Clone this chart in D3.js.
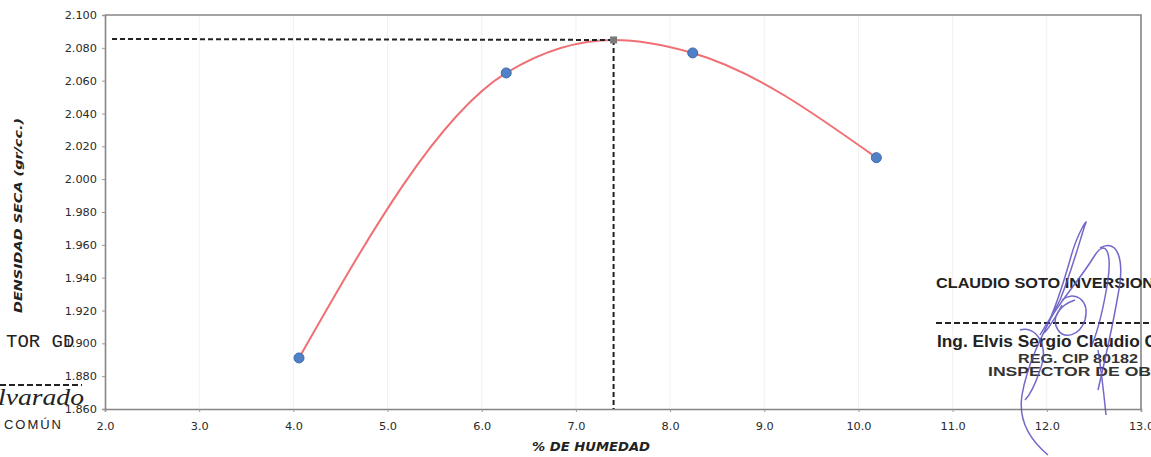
<!DOCTYPE html>
<html>
<head>
<meta charset="utf-8">
<script src="https://cdn.jsdelivr.net/npm/d3@7"></script>
<style>
  html, body { margin: 0; padding: 0; background: #fff; }
  svg { display: block; }
</style>
</head>
<body>
<svg id="chart" width="1151" height="457"></svg>
<script>
// ---- data ----
const moisture = [4.06, 6.26, 8.24, 10.19];          // % de humedad
const density  = [1.8911, 2.0647, 2.0769, 2.0131];   // densidad seca (gr/cc)
const optMoisture = [7.40];                           // óptimo contenido de humedad
const maxDensity  = [2.0848];                         // máxima densidad seca
const xTickValues = [2, 3, 4, 5, 6, 7, 8, 9, 10, 11, 12, 13];
const yTickValues = [1.86, 1.88, 1.90, 1.92, 1.94, 1.96, 1.98, 2.00, 2.02, 2.04, 2.06, 2.08, 2.10];
const xTitle = "% DE HUMEDAD";
const yTitle = "DENSIDAD SECA (gr/cc.)";

// ---- layout ----
const W = 1151, H = 457;
const plot = { left: 105, right: 1141, top: 15, bottom: 409 };

const svg = d3.select("#chart");
svg.append("rect").attr("width", W).attr("height", H).attr("fill", "#fff");

const x = d3.scaleLinear().domain([2, 13]).range([plot.left, plot.right]);
const y = d3.scaleLinear().domain([1.86, 2.10]).range([plot.bottom, plot.top]);

// faint vertical gridlines
svg.append("g").selectAll("line").data(xTickValues.slice(1, -1)).join("line")
  .attr("x1", d => x(d)).attr("x2", d => x(d))
  .attr("y1", plot.top).attr("y2", plot.bottom)
  .attr("stroke", "#f1f1f1").attr("stroke-width", 1);

// axes
const yAxis = d3.axisLeft(y).tickValues(yTickValues).tickFormat(d3.format(".3f")).tickSize(3).tickPadding(5);
const xAxis = d3.axisBottom(x).tickValues(xTickValues).tickFormat(d3.format(".1f")).tickSize(3).tickPadding(10);

const gy = svg.append("g").attr("transform", `translate(${plot.left},0)`).call(yAxis);
const gx = svg.append("g").attr("transform", `translate(0,${plot.bottom})`).call(xAxis);
[gx, gy].forEach(g => {
  g.select(".domain").attr("stroke", "#858585").attr("stroke-width", 1.6);
  g.selectAll(".tick line").attr("stroke", "#999");
  g.selectAll(".tick text")
    .attr("fill", "#2a2a2a")
    .style("font-family", "'DejaVu Sans', sans-serif")
    .style("font-size", "11.3px");
});

// top & right border of plot area
svg.append("path")
  .attr("d", `M${plot.left},${plot.top}H${plot.right}V${plot.bottom}`)
  .attr("fill", "none").attr("stroke", "#858585").attr("stroke-width", 1.6);

// axis titles
svg.append("text")
  .attr("x", 532).attr("y", 451)
  .attr("textLength", 118).attr("lengthAdjust", "spacingAndGlyphs")
  .style("font-family", "'DejaVu Sans', sans-serif")
  .style("font-size", "11.5px").style("font-weight", "bold").style("font-style", "italic")
  .attr("fill", "#222")
  .text(xTitle);

svg.append("text")
  .attr("transform", `translate(22,313) rotate(-90)`)
  .attr("textLength", 195).attr("lengthAdjust", "spacingAndGlyphs")
  .style("font-family", "'DejaVu Sans', sans-serif")
  .style("font-size", "11px").style("font-weight", "bold").style("font-style", "italic")
  .attr("fill", "#222")
  .text(yTitle);

// curve through the measured points and the optimum
const pts = moisture.map((m, i) => [m, density[i]]);
const curvePts = pts.concat([[optMoisture[0], maxDensity[0]]]).sort((a, b) => a[0] - b[0]);
const line = d3.line().x(d => x(d[0])).y(d => y(d[1])).curve(d3.curveMonotoneX);
svg.append("path").datum(curvePts)
  .attr("d", line)
  .attr("fill", "none").attr("stroke", "#ef6f74").attr("stroke-width", 2);

// dashed guide lines to the optimum
svg.append("line")
  .attr("x1", plot.left + 7).attr("x2", x(optMoisture[0]))
  .attr("y1", y(maxDensity[0]) - 1).attr("y2", y(maxDensity[0]))
  .attr("stroke", "#222").attr("stroke-width", 2).attr("stroke-dasharray", "5,3");
svg.append("line")
  .attr("x1", x(optMoisture[0])).attr("x2", x(optMoisture[0]))
  .attr("y1", y(maxDensity[0])).attr("y2", plot.bottom)
  .attr("stroke", "#222").attr("stroke-width", 2).attr("stroke-dasharray", "5,3");

// optimum marker
svg.append("g").selectAll("rect").data(optMoisture).join("rect")
  .attr("x", d => x(d) - 3.5).attr("y", (d, i) => y(maxDensity[i]) - 3.5)
  .attr("width", 7).attr("height", 7)
  .attr("fill", "#7a7a7a");

// data points
svg.append("g").selectAll("circle").data(pts).join("circle")
  .attr("cx", d => x(d[0])).attr("cy", d => y(d[1]))
  .attr("r", 5)
  .attr("fill", "#5080c6").attr("stroke", "#3f6aac").attr("stroke-width", 1);

// ---- stamp / annotation overlays from the scanned sheet ----
const ov = svg.append("g");
ov.append("text").attr("x", 6).attr("y", 347)
  .style("font-family", "'Liberation Mono', monospace").style("font-size", "19px")
  .attr("fill", "#222").text("TOR GD");
ov.append("line").attr("x1", 0).attr("x2", 82).attr("y1", 385).attr("y2", 385)
  .attr("stroke", "#222").attr("stroke-width", 2).attr("stroke-dasharray", "6,3");
ov.append("text").attr("x", -2).attr("y", 405)
  .attr("textLength", 86).attr("lengthAdjust", "spacingAndGlyphs")
  .style("font-family", "'Liberation Serif', serif").style("font-size", "24px").style("font-style", "italic")
  .attr("fill", "#222").text("lvarado");
ov.append("text").attr("x", 4).attr("y", 429)
  .attr("textLength", 57)
  .style("font-family", "'Liberation Sans', sans-serif").style("font-size", "13px")
  .attr("fill", "#222").text("COMÚN");

ov.append("text").attr("x", 936).attr("y", 288)
  .attr("textLength", 218).attr("lengthAdjust", "spacingAndGlyphs")
  .style("font-family", "'Liberation Sans Narrow', 'Liberation Sans', sans-serif").style("font-size", "15.5px").style("font-weight", "bold")
  .attr("fill", "#222").text("CLAUDIO SOTO INVERSION");
ov.append("line").attr("x1", 936).attr("x2", 1151).attr("y1", 323).attr("y2", 323)
  .attr("stroke", "#222").attr("stroke-width", 2).attr("stroke-dasharray", "6,3");
ov.append("text").attr("x", 937).attr("y", 347)
  .attr("textLength", 220).attr("lengthAdjust", "spacingAndGlyphs")
  .style("font-family", "'Liberation Sans Narrow', 'Liberation Sans', sans-serif").style("font-size", "16px").style("font-weight", "bold")
  .attr("fill", "#222").text("Ing. Elvis Sergio Claudio C");
ov.append("text").attr("x", 1018).attr("y", 363)
  .attr("textLength", 120).attr("lengthAdjust", "spacingAndGlyphs")
  .style("font-family", "'Liberation Sans', sans-serif").style("font-size", "12.5px").style("font-weight", "bold")
  .attr("fill", "#333").text("REG. CIP 80182");
ov.append("text").attr("x", 988).attr("y", 376)
  .attr("textLength", 168).attr("lengthAdjust", "spacingAndGlyphs")
  .style("font-family", "'Liberation Sans', sans-serif").style("font-size", "13px").style("font-weight", "bold")
  .attr("fill", "#333").text("INSPECTOR DE OBI");

// signature scribble
const sig = ov.append("g").attr("fill", "none").attr("stroke", "#5b4fc0").attr("stroke-width", 1.5).attr("opacity", 0.85);
sig.append("path").attr("d", "M1048,455 C1030,440 1018,420 1022,395 C1028,360 1045,330 1060,300 C1072,270 1080,240 1085,225 C1090,215 1078,230 1070,260 C1060,295 1050,320 1045,330 C1040,340 1055,320 1062,305");
sig.append("path").attr("d", "M1040,335 C1060,300 1080,280 1095,255 C1105,240 1112,250 1108,280 C1104,305 1098,330 1092,345");
sig.append("path").attr("d", "M1062,300 C1075,290 1090,300 1085,320 C1080,335 1065,340 1058,330 C1050,318 1060,305 1075,300");
sig.append("path").attr("d", "M1100,248 C1118,238 1125,260 1118,295 C1112,330 1105,360 1098,390");
sig.append("path").attr("d", "M1098,350 C1102,375 1104,395 1106,415");
sig.append("path").attr("d", "M1020,330 C1035,325 1050,345 1040,370 C1035,385 1030,395 1025,400");
</script>
</body>
</html>
